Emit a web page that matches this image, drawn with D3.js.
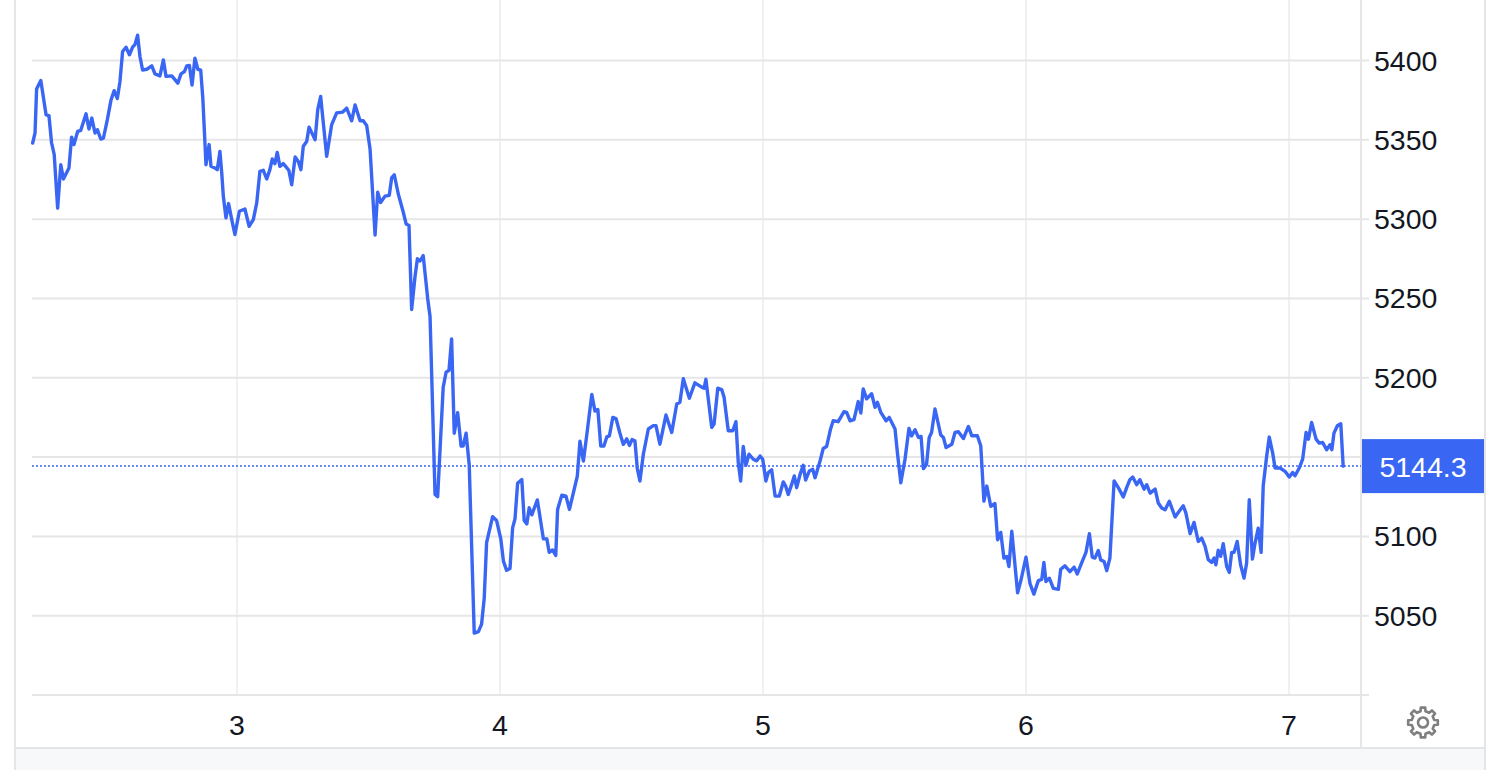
<!DOCTYPE html>
<html>
<head>
<meta charset="utf-8">
<script src="https://d3js.org/d3.v7.min.js"></script>
<style>
    body { margin: 0; background: #fff; }
    svg { display: block; font-family: "Liberation Sans", Arial, sans-serif; }
</style>
</head>
<body>
<div id="chart"></div>
<script>
// time in days (tick "3" = day 3), price in index points
const times = [
    2.223, 2.232, 2.238, 2.254, 2.274, 2.285, 2.295, 2.305, 2.318, 2.330, 2.340, 2.361, 2.371, 2.380,
    2.394, 2.406, 2.426, 2.437, 2.448, 2.460, 2.469, 2.482, 2.492, 2.507, 2.521, 2.533, 2.545, 2.555,
    2.565, 2.578, 2.591, 2.603, 2.612, 2.622, 2.631, 2.641, 2.657, 2.676, 2.688, 2.707, 2.720, 2.730,
    2.752, 2.775, 2.787, 2.800, 2.809, 2.819, 2.829, 2.840, 2.851, 2.862, 2.870, 2.882, 2.894, 2.901,
    2.916, 2.925, 2.935, 2.942, 2.948, 2.958, 2.968, 2.980, 2.992, 3.009, 3.030, 3.046, 3.062, 3.075,
    3.087, 3.100, 3.113, 3.125, 3.134, 3.144, 3.153, 3.163, 3.176, 3.197, 3.208, 3.221, 3.233, 3.243,
    3.252, 3.265, 3.274, 3.297, 3.307, 3.318, 3.341,
    3.360, 3.379, 3.402, 3.417, 3.436, 3.449, 3.468, 3.480, 3.493, 3.506, 3.525, 3.535, 3.546, 3.563,
    3.579, 3.588, 3.598, 3.613, 3.632, 3.643, 3.654, 3.664, 3.677, 3.686, 3.696, 3.708, 3.725, 3.734,
    3.753, 3.763, 3.784, 3.795, 3.806, 3.816, 3.826, 3.839, 3.852, 3.860, 3.871, 3.883, 3.902, 3.918,
    3.930, 3.940, 3.949, 3.972, 3.987, 4.003, 4.013, 4.025, 4.038, 4.048, 4.057, 4.067, 4.083, 4.092,
    4.102, 4.111, 4.121, 4.142, 4.165, 4.178, 4.187, 4.200, 4.212, 4.219, 4.235, 4.251, 4.264, 4.294,
    4.304, 4.317, 4.330, 4.349, 4.361, 4.372, 4.383, 4.395, 4.406, 4.416, 4.429, 4.441, 4.456, 4.469,
    4.482, 4.492, 4.502, 4.513, 4.522,
    4.532, 4.545, 4.564, 4.583, 4.593, 4.608, 4.631, 4.653, 4.672, 4.684, 4.697, 4.720, 4.741, 4.767,
    4.776, 4.783, 4.805, 4.814, 4.828, 4.843, 4.852, 4.868, 4.885, 4.897, 4.906, 4.915, 4.925, 4.935,
    4.947, 4.963, 4.976, 4.989, 4.999, 5.011, 5.020, 5.033, 5.046, 5.062, 5.077, 5.086, 5.096, 5.109,
    5.119, 5.128, 5.141, 5.153, 5.162, 5.176, 5.189, 5.198, 5.217, 5.229, 5.242, 5.257, 5.267, 5.286,
    5.308, 5.318, 5.331, 5.346, 5.362, 5.372, 5.381, 5.394, 5.413, 5.426, 5.435, 5.448, 5.468, 5.480,
    5.502,
    5.511, 5.524, 5.540, 5.555, 5.565, 5.578, 5.591, 5.601, 5.610, 5.622, 5.632, 5.641, 5.654, 5.676,
    5.686, 5.696, 5.718, 5.730, 5.743, 5.762, 5.781, 5.794, 5.815, 5.828, 5.840, 5.851, 5.866, 5.882,
    5.892, 5.904, 5.916, 5.927, 5.935, 5.946, 5.968, 5.981, 6.000, 6.015, 6.030, 6.047, 6.060, 6.068,
    6.076, 6.089, 6.104, 6.123, 6.132, 6.148, 6.167, 6.183, 6.195, 6.212, 6.228, 6.241, 6.252, 6.262,
    6.275, 6.284, 6.297, 6.307, 6.319, 6.335, 6.351, 6.370, 6.385,
    6.395, 6.406, 6.421, 6.433, 6.449, 6.459, 6.472, 6.491, 6.503, 6.516, 6.529, 6.545, 6.567, 6.579,
    6.598, 6.608, 6.624, 6.639, 6.655, 6.668, 6.681, 6.693, 6.706, 6.715, 6.722, 6.731, 6.740, 6.750,
    6.763, 6.773, 6.782, 6.791, 6.803, 6.816, 6.829, 6.839, 6.849, 6.861, 6.871, 6.883, 6.894, 6.902,
    6.915, 6.925, 6.938, 6.947, 6.966, 6.985, 7.001, 7.014, 7.023, 7.039, 7.052, 7.065, 7.074, 7.086,
    7.103, 7.115, 7.128, 7.143, 7.156, 7.163, 7.171, 7.184, 7.197, 7.206
];

const prices = [
    5348.0, 5354.3, 5382.0, 5387.4, 5365.8, 5365.2, 5348.0, 5340.6, 5307.0, 5334.3, 5325.3, 5332.2, 5351.7, 5347.0,
    5355.3, 5356.0, 5366.4, 5356.8, 5363.7, 5354.3, 5356.4, 5350.5, 5351.0, 5362.7, 5375.2, 5381.0, 5376.0, 5386.8,
    5405.7, 5408.4, 5403.6, 5408.4, 5410.0, 5416.0, 5402.5, 5394.0, 5394.5, 5396.6, 5391.6, 5390.3, 5400.4, 5390.0,
    5390.3, 5385.7, 5391.6, 5393.0, 5396.6, 5396.9, 5384.5, 5401.5, 5394.5, 5394.0, 5376.3, 5334.3, 5347.0, 5333.3,
    5332.2, 5331.2, 5342.7, 5329.0, 5314.4, 5300.8, 5309.8, 5299.7, 5290.3, 5305.0, 5306.4, 5295.5, 5299.7, 5310.2,
    5330.1, 5330.8, 5325.3, 5331.2, 5337.9, 5335.0, 5342.1, 5333.3, 5335.0, 5330.8, 5321.7, 5339.2, 5336.4, 5331.2,
    5345.9, 5349.0, 5358.0, 5350.1, 5369.0, 5377.3, 5339.6,
    5359.6, 5367.0, 5367.5, 5370.0, 5362.0, 5372.0, 5362.0, 5362.0, 5359.0, 5344.0, 5290.0, 5317.0, 5310.5, 5314.5,
    5315.0, 5326.0, 5328.0, 5316.0, 5304.5, 5297.0, 5296.0, 5243.0, 5264.0, 5275.0, 5273.6, 5277.0, 5250.0, 5238.6,
    5126.4, 5125.0, 5194.0, 5203.5, 5204.7, 5224.5, 5165.0, 5178.0, 5157.0, 5157.0, 5165.0, 5145.0, 5039.0, 5040.0,
    5044.7, 5061.0, 5096.0, 5112.4, 5110.0, 5098.4, 5084.4, 5078.6, 5079.7, 5105.4, 5111.0, 5133.5, 5135.8, 5110.0,
    5107.8, 5118.0, 5113.6, 5123.0, 5098.4, 5098.4, 5090.0, 5091.4, 5088.0, 5117.0, 5126.0, 5125.3, 5117.0, 5138.0,
    5160.0, 5147.5, 5164.0, 5189.5, 5179.0, 5180.0, 5157.0, 5157.0, 5162.7, 5163.4, 5175.0, 5174.3, 5165.0, 5158.0,
    5161.5, 5157.3, 5161.0, 5160.3, 5142.8,
    5134.9, 5151.8, 5167.7, 5169.8, 5169.8, 5158.1, 5176.5, 5165.5, 5183.5, 5184.6, 5199.4, 5187.1, 5196.8, 5194.1,
    5193.4, 5199.0, 5168.7, 5170.8, 5193.4, 5192.6, 5187.7, 5166.6, 5166.6, 5172.3, 5146.5, 5134.9, 5156.7, 5144.8,
    5151.8, 5148.6, 5147.6, 5150.7, 5148.6, 5134.9, 5140.2, 5141.9, 5125.4, 5125.4, 5134.3, 5131.7, 5126.4, 5132.8,
    5138.1, 5130.7, 5139.1, 5144.8, 5135.5, 5141.2, 5142.3, 5137.0, 5147.6, 5155.4, 5156.7, 5167.7, 5172.9, 5172.3,
    5178.6, 5178.2, 5172.9, 5173.6, 5185.0, 5177.8, 5193.0, 5186.7, 5189.9, 5181.4, 5184.6, 5178.2, 5172.9, 5175.0,
    5167.7,
    5152.9, 5133.8, 5148.6, 5168.1, 5163.4, 5167.2, 5162.4, 5163.0, 5142.7, 5145.5, 5162.4, 5165.5, 5180.3, 5163.9,
    5162.4, 5156.0, 5158.1, 5165.5, 5166.0, 5161.7, 5169.3, 5163.4, 5163.4, 5157.1, 5122.2, 5131.7, 5119.0, 5120.7,
    5097.9, 5102.5, 5086.3, 5087.3, 5081.0, 5103.2, 5064.5, 5072.5, 5086.9, 5070.4, 5063.6, 5072.1, 5072.9, 5083.5,
    5071.5, 5073.6, 5067.2, 5066.6, 5079.3, 5081.4, 5077.8, 5080.6, 5076.3, 5083.5, 5089.9, 5101.7, 5086.9, 5086.3,
    5091.1, 5085.2, 5084.2, 5078.4, 5086.3, 5134.9, 5130.7, 5124.9, 5131.7,
    5135.7, 5137.4, 5132.6, 5135.7, 5129.8, 5132.6, 5127.3, 5129.8, 5121.0, 5117.9, 5116.8, 5122.1, 5112.2, 5115.1,
    5119.3, 5114.7, 5101.7, 5108.8, 5096.8, 5098.9, 5093.7, 5085.3, 5083.6, 5086.3, 5082.1, 5091.2, 5087.4, 5095.4,
    5081.1, 5077.3, 5089.9, 5089.9, 5096.8, 5082.1, 5073.7, 5083.2, 5123.1, 5085.7, 5095.8, 5105.2, 5089.9, 5131.9,
    5150.4, 5162.6, 5152.5, 5143.1, 5143.1, 5141.0, 5137.4, 5140.3, 5138.2, 5143.1, 5148.7, 5165.5, 5161.3, 5171.8,
    5161.3, 5158.8, 5159.2, 5154.6, 5157.8, 5154.6, 5165.1, 5169.7, 5171.0, 5144.3
];

const lastPrice = 5144.3;
const xTicks = [3, 4, 5, 6, 7];
const yTicks = [5050, 5100, 5150, 5200, 5250, 5300, 5350, 5400];

const width = 1506;
const height = 770;
const plotLeft = 32, plotRight = 1361, plotBottom = 695;
const blue = "#3a66f4";

const svg = d3.select("#chart").append("svg")
    .attr("width", width)
    .attr("height", height);

const x = d3.scaleLinear().domain([2.2205, 7.2738]).range([plotLeft, plotRight]);
const y = d3.scaleLinear().domain([5000, 5438.15]).range([plotBottom, 0]);

// frame
svg.append("rect")
    .attr("x", 15).attr("y", 748).attr("width", 1470).attr("height", 22)
    .attr("fill", "#f7f8fa");
svg.append("line")
    .attr("x1", 15).attr("x2", 1485).attr("y1", 748).attr("y2", 748)
    .attr("stroke", "#e3e5e9").attr("stroke-width", 2);
svg.append("line")
    .attr("x1", 15).attr("x2", 15).attr("y1", 0).attr("y2", height)
    .attr("stroke", "#e3e5e9").attr("stroke-width", 2);
svg.append("line")
    .attr("x1", 1485).attr("x2", 1485).attr("y1", 0).attr("y2", height)
    .attr("stroke", "#e3e5e9").attr("stroke-width", 2);

// vertical grid
svg.append("g").selectAll("line")
    .data(xTicks)
    .join("line")
    .attr("x1", d => x(d)).attr("x2", d => x(d))
    .attr("y1", 0).attr("y2", plotBottom)
    .attr("stroke", "#eef0f3").attr("stroke-width", 2);

// horizontal grid + axis line
svg.append("g").selectAll("line")
    .data([5000].concat(yTicks))
    .join("line")
    .attr("x1", plotLeft).attr("x2", 1369)
    .attr("y1", d => y(d)).attr("y2", d => y(d))
    .attr("stroke", "#e6e6e6").attr("stroke-width", 2);

// price scale separator
svg.append("line")
    .attr("x1", plotRight).attr("x2", plotRight).attr("y1", 0).attr("y2", 748)
    .attr("stroke", "#e6e6e6").attr("stroke-width", 2);

// y labels (the one hidden behind the last-price badge is left out)
svg.append("g").selectAll("text")
    .data(yTicks.filter(d => Math.abs(y(d) - y(lastPrice)) > 30))
    .join("text")
    .attr("x", 1374)
    .attr("y", d => y(d))
    .attr("dominant-baseline", "central")
    .attr("font-size", 28.5)
    .attr("fill", "#131722")
    .text(d => d);

// x labels
svg.append("g").selectAll("text")
    .data(xTicks)
    .join("text")
    .attr("x", d => x(d))
    .attr("y", 724.5)
    .attr("text-anchor", "middle")
    .attr("dominant-baseline", "central")
    .attr("font-size", 28.5)
    .attr("fill", "#131722")
    .text(d => d);

// last price dotted line
svg.append("line")
    .attr("x1", plotLeft).attr("x2", plotRight)
    .attr("y1", y(lastPrice)).attr("y2", y(lastPrice))
    .attr("stroke", blue).attr("stroke-width", 1.5)
    .attr("stroke-dasharray", "2,2");

// price line
const points = times.map((t, i) => [t, prices[i]]);
svg.append("path")
    .datum(points)
    .attr("fill", "none")
    .attr("stroke", blue)
    .attr("stroke-width", 3.4)
    .attr("stroke-linejoin", "round")
    .attr("stroke-linecap", "round")
    .attr("d", d3.line().x(d => x(d[0])).y(d => y(d[1])));

// last price badge
svg.append("rect")
    .attr("x", 1362).attr("y", y(lastPrice) - 27)
    .attr("width", 122).attr("height", 54)
    .attr("fill", blue);
svg.append("text")
    .attr("x", 1423).attr("y", y(lastPrice) + 1)
    .attr("text-anchor", "middle")
    .attr("dominant-baseline", "central")
    .attr("font-size", 28.5)
    .attr("fill", "#fff")
    .text(lastPrice.toFixed(1));

// settings gear
const gear = d3.path();
const teeth = 8, rOut = 15, rIn = 11.5;
for (let i = 0; i < teeth; i++) {
    const a = i * 2 * Math.PI / teeth;
    const s = Math.PI / teeth;
    const pts = [
        [rIn, a - s * 0.55], [rOut, a - s * 0.38], [rOut, a + s * 0.38], [rIn, a + s * 0.55]
    ];
    pts.forEach(([r, ang], j) => {
        const px = r * Math.cos(ang), py = r * Math.sin(ang);
        if (i === 0 && j === 0) gear.moveTo(px, py); else gear.lineTo(px, py);
    });
}
gear.closePath();
const g = svg.append("g").attr("transform", "translate(1423,722.5)");
g.append("path").attr("d", gear.toString())
    .attr("fill", "none").attr("stroke", "#7f7f7f").attr("stroke-width", 2.6)
    .attr("stroke-linejoin", "round");
g.append("circle").attr("r", 5)
    .attr("fill", "none").attr("stroke", "#7f7f7f").attr("stroke-width", 2.6);
</script>
</body>
</html>
